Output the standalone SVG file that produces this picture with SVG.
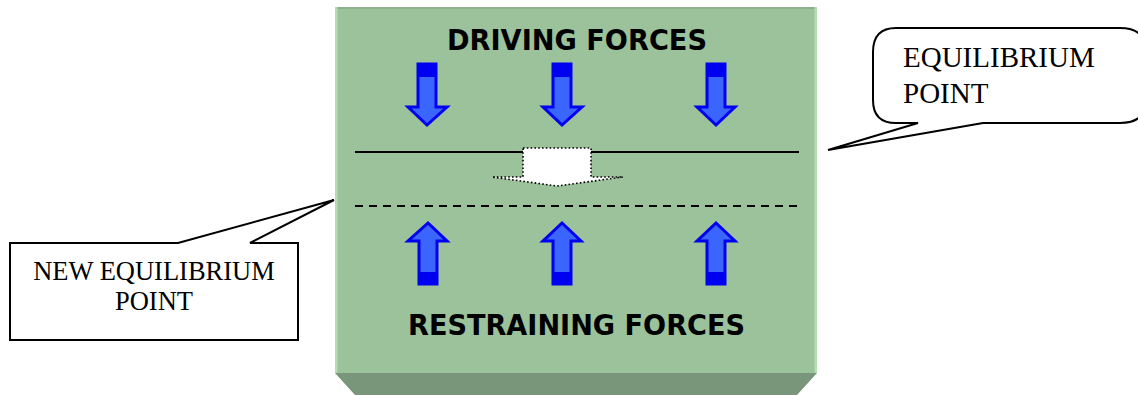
<svg xmlns="http://www.w3.org/2000/svg" width="1138" height="395" viewBox="0 0 1138 395">
<style>
.title{font-family:"DejaVu Sans",Verdana,sans-serif;font-weight:bold;font-size:29px;fill:#000}
.call{font-family:"Liberation Serif","Times New Roman",serif;fill:#000}
.arrow{fill:#3a66ff;stroke:#0000f0;stroke-width:3;stroke-linejoin:miter}
.dark{fill:#0000f0}
.callout{fill:#fff;stroke:#000;stroke-width:2}
</style>
<rect width="1138" height="395" fill="#fff"/>
<g id="board">
<rect x="335" y="7" width="482" height="366" fill="#9cc29b"/>
<rect x="335" y="7" width="482" height="2" fill="#8fb08e"/>
<rect x="335" y="7" width="2.5" height="366" fill="#b6dcb2"/>
<rect x="814.5" y="7" width="2.5" height="366" fill="#b6dcb2"/>
<polygon points="335,373 817,373 797,395 355,395" fill="#79957a"/>
</g>
<g id="driving-label"><text class="title" x="577" y="50" text-anchor="middle" textLength="260" lengthAdjust="spacingAndGlyphs">DRIVING FORCES</text></g>
<g id="restraining-label"><text class="title" x="576.5" y="335" text-anchor="middle" textLength="337" lengthAdjust="spacingAndGlyphs">RESTRAINING FORCES</text></g>
<g id="driving-arrows">
<g id="down1"><polygon class="arrow" points="418,64 436,64 436,107 447,107 427,125 408,107 418,107"/><rect class="dark" x="418" y="64" width="18" height="13"/></g>
<g id="down2"><polygon class="arrow" points="553,64 571,64 571,107 582,107 562,125 543,107 553,107"/><rect class="dark" x="553" y="64" width="18" height="13"/></g>
<g id="down3"><polygon class="arrow" points="707,64 725,64 725,107 735,107 716,125 697,107 707,107"/><rect class="dark" x="707" y="64" width="18" height="13"/></g>
</g>
<g id="restraining-arrows">
<g id="up1"><polygon class="arrow" points="419,284 437,284 437,241 447,241 428,223 408,241 419,241"/><rect class="dark" x="419" y="272" width="18" height="13"/></g>
<g id="up2"><polygon class="arrow" points="553,284 571,284 571,241 581,241 562,223 543,241 553,241"/><rect class="dark" x="553" y="272" width="18" height="13"/></g>
<g id="up3"><polygon class="arrow" points="707,284 725,284 725,241 735,241 716,223 697,241 707,241"/><rect class="dark" x="707" y="272" width="18" height="13"/></g>
</g>
<g id="connectors">
<line x1="355" y1="152" x2="799" y2="152" stroke="#000" stroke-width="2"/>
<line x1="355" y1="206" x2="798" y2="206" stroke="#000" stroke-width="2" stroke-dasharray="8 6"/>
</g>
<g id="shift-arrow">
<polygon points="523,148 591,148 591,177 623,177 557,186 492,177 523,177" fill="#fff" stroke="#000" stroke-width="1.6" stroke-dasharray="1.6 2.2"/>
</g>
<g id="equilibrium-callout">
<path class="callout" d="M 896,28 L 1120,28 Q 1146,28 1146,52 L 1146,100 Q 1146,123 1120,123 L 983,123 L 828,150 L 918,123 L 896,123 Q 873,123 873,100 L 873,52 Q 873,28 896,28 Z"/>
<text class="call" x="903" y="67" font-size="29">EQUILIBRIUM</text>
<text class="call" x="903" y="103" font-size="29">POINT</text>
</g>
<g id="new-equilibrium-callout">
<path class="callout" d="M 10,243 L 178,243 L 334,200 L 250,243 L 298,243 L 298,340 L 10,340 Z"/>
<text class="call" x="154" y="280" font-size="26.5" text-anchor="middle">NEW EQUILIBRIUM</text>
<text class="call" x="154" y="310" font-size="26.5" text-anchor="middle">POINT</text>
</g>
</svg>
